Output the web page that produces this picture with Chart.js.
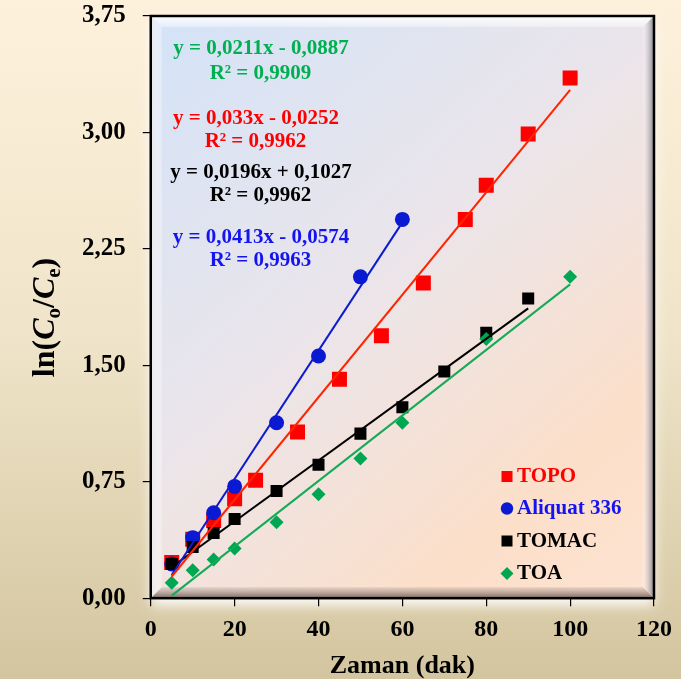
<!DOCTYPE html>
<html><head><meta charset="utf-8">
<script src="https://cdn.jsdelivr.net/npm/chart.js@4/dist/chart.umd.min.js"></script>
<style>html,body{margin:0;padding:0;background:#efe4c8;overflow:hidden}</style>
</head><body>
<canvas id="c" width="681" height="679" style="display:block;width:681px;height:679px"></canvas>
<script>
// ---- data ----
const seriesNames = ['TOPO', 'Aliquat 336', 'TOMAC', 'TOA'];

const xTopo = [5, 10, 15, 20, 25, 35, 45, 55, 65, 75, 80, 90, 100];
const yTopo = [0.23, 0.38, 0.50, 0.64, 0.76, 1.07, 1.41, 1.69, 2.03, 2.44, 2.66, 2.99, 3.35];

const xAliquat = [5, 10, 15, 20, 30, 40, 50, 60];
const yAliquat = [0.22, 0.39, 0.55, 0.72, 1.13, 1.56, 2.07, 2.44];

const xTomac = [5, 10, 15, 20, 30, 40, 50, 60, 70, 80, 90];
const yTomac = [0.22, 0.33, 0.42, 0.51, 0.69, 0.86, 1.06, 1.23, 1.46, 1.71, 1.93];

const xToa = [5, 10, 15, 20, 30, 40, 50, 60, 80, 100];
const yToa = [0.10, 0.18, 0.25, 0.32, 0.49, 0.67, 0.90, 1.13, 1.67, 2.07];

// trend-line end points (from the printed equations)
const fitXTopo = [5, 100];    const fitYTopo = [0.1398, 3.2748];
const fitXAliquat = [5, 60];  const fitYAliquat = [0.1491, 2.4206];
const fitXTomac = [5, 90];    const fitYTomac = [0.2007, 1.8667];
const fitXToa = [5, 100];     const fitYToa = [0.0168, 2.0213];

const eqText = ['y = 0,0211x - 0,0887', 'y = 0,033x - 0,0252', 'y = 0,0196x + 0,1027', 'y = 0,0413x - 0,0574'];
const r2Text = ['R² = 0,9909', 'R² = 0,9962', 'R² = 0,9962', 'R² = 0,9963'];

const xTickLabels = ['0', '20', '40', '60', '80', '100', '120'];
const yTickLabels = ['0,00', '0,75', '1,50', '2,25', '3,00', '3,75'];
const xTitle = 'Zaman (dak)';

// ---- styles ----
const SERIF = '"Liberation Serif", "Times New Roman", serif';
const cRed = '#ff0000', cRedLine = '#ff2400';
const cBlue = '#0a1ad2', cBlueLine = '#0c1ad0', cBlueText = '#1414f0';
const cBlack = '#000000';
const cGreen = '#00a651', cGreenLine = '#14aa58', cGreenText = '#00b050';

const pts = (xs, ys) => xs.map((x, i) => ({x: x, y: ys[i]}));

function pointSet(label, xs, ys, color, style, radius, order) {
  return {label, data: pts(xs, ys), showLine: false, pointStyle: style, pointRadius: radius,
    pointHoverRadius: radius, backgroundColor: color, borderColor: color, borderWidth: 0, order};
}
function fitSet(label, xs, ys, color, order) {
  return {label, data: pts(xs, ys), showLine: true, pointRadius: 0, pointHoverRadius: 0,
    borderColor: color, borderWidth: 2, fill: false, order};
}

const bgPlugin = {
  id: 'bgPlugin',
  beforeDraw(chart) {
    const ctx = chart.ctx, W = chart.width, H = chart.height;
    const a = chart.chartArea;
    ctx.save();
    let g = ctx.createLinearGradient(0, 0, 0, H);
    g.addColorStop(0, '#fef1dc');
    g.addColorStop(0.5, '#efe4c9');
    g.addColorStop(1, '#d3c59f');
    ctx.fillStyle = g;
    ctx.fillRect(0, 0, W, H);
    // plot area with soft white glow underneath
    let pg = ctx.createLinearGradient(a.left, a.top, a.right, a.bottom);
    pg.addColorStop(0, '#d3e3f8');
    pg.addColorStop(0.45, '#ebe5ea');
    pg.addColorStop(0.8, '#fcdfc9');
    pg.addColorStop(1, '#fde3d2');
    ctx.shadowColor = 'rgba(255,255,255,0.95)';
    ctx.shadowBlur = 12;
    ctx.shadowOffsetY = 7;
    ctx.fillStyle = pg;
    ctx.fillRect(a.left, a.top, a.right - a.left, a.bottom - a.top);
    ctx.shadowColor = 'transparent';
    // bevel
    const L = a.left, T = a.top, R = a.right, B = a.bottom, b = 11;
    const poly = (p, fill) => { ctx.beginPath(); ctx.moveTo(p[0][0], p[0][1]); for (let i = 1; i < p.length; i++) ctx.lineTo(p[i][0], p[i][1]); ctx.closePath(); ctx.fillStyle = fill; ctx.fill(); };
    g = ctx.createLinearGradient(0, T, 0, T + b);
    g.addColorStop(0, 'rgba(255,255,255,0.95)'); g.addColorStop(1, 'rgba(255,255,255,0.35)');
    poly([[L, T], [R, T], [R - b, T + b], [L + b, T + b]], g);
    g = ctx.createLinearGradient(L, 0, L + b, 0);
    g.addColorStop(0, 'rgba(235,232,236,0.9)'); g.addColorStop(1, 'rgba(255,255,255,0.3)');
    poly([[L, T], [L + b, T + b], [L + b, B - b], [L, B]], g);
    g = ctx.createLinearGradient(R - b, 0, R, 0);
    g.addColorStop(0, 'rgba(255,250,255,0.3)'); g.addColorStop(1, 'rgba(110,105,115,0.8)');
    poly([[R, T], [R, B], [R - b, B - b], [R - b, T + b]], g);
    g = ctx.createLinearGradient(0, B - b, 0, B);
    g.addColorStop(0, 'rgba(190,170,160,0.35)'); g.addColorStop(1, 'rgba(105,88,80,0.9)');
    poly([[L, B], [R, B], [R - b, B - b], [L + b, B - b]], g);
    // frame
    ctx.strokeStyle = '#000';
    ctx.lineWidth = 2.5;
    ctx.strokeRect(L, T, R - L, B - T);
    ctx.restore();
  },
  afterDraw(chart) {
    const ctx = chart.ctx;
    ctx.save();
    // equations
    const eqColors = [cGreenText, cRed, cBlack, cBlueText];
    const eqPos = [[261, 49, 260.5, 73.3], [256, 118.8, 255.5, 141.8], [261, 172.5, 260.5, 195.8], [261, 238, 260.5, 260.8]];
    ctx.font = 'bold 21px ' + SERIF;
    ctx.textAlign = 'center';
    ctx.textBaseline = 'middle';
    eqText.forEach((t, i) => {
      ctx.fillStyle = eqColors[i];
      ctx.fillText(t, eqPos[i][0], eqPos[i][1]);
      ctx.fillText(r2Text[i], eqPos[i][2], eqPos[i][3]);
    });
    // legend
    const lgColors = [cRed, cBlueText, cBlack, cBlack];
    const mkColors = [cRed, cBlue, cBlack, cGreen];
    const lgY = [476.5, 508.5, 541, 573.5];
    const mx = 507, tx = 517;
    ctx.textAlign = 'left';
    seriesNames.forEach((n, i) => {
      const y = lgY[i];
      ctx.fillStyle = mkColors[i];
      ctx.beginPath();
      if (i === 0 || i === 2) ctx.rect(mx - 5.5, y - 5.5, 11, 11);
      else if (i === 1) ctx.arc(mx, y, 6.2, 0, Math.PI * 2);
      else { ctx.moveTo(mx - 6.5, y); ctx.lineTo(mx, y - 6.5); ctx.lineTo(mx + 6.5, y); ctx.lineTo(mx, y + 6.5); ctx.closePath(); }
      ctx.fill();
      ctx.fillStyle = lgColors[i];
      ctx.fillText(n, tx, y + 0.5);
    });
    // y axis title  ln(Co/Ce)
    const parts = [
      {t: 'ln(', f: 'bold 32px ' + SERIF, dy: 0},
      {t: 'C', f: 'italic bold 32px ' + SERIF, dy: 0},
      {t: 'o', f: 'bold 21px ' + SERIF, dy: 6},
      {t: '/', f: 'bold 32px ' + SERIF, dy: 0},
      {t: 'C', f: 'italic bold 32px ' + SERIF, dy: 0},
      {t: 'e', f: 'bold 21px ' + SERIF, dy: 6},
      {t: ')', f: 'bold 32px ' + SERIF, dy: 0}
    ];
    let w = 0;
    parts.forEach(p => { ctx.font = p.f; p.w = ctx.measureText(p.t).width; w += p.w; });
    ctx.translate(54, 317.5);
    ctx.rotate(-Math.PI / 2);
    ctx.textBaseline = 'alphabetic';
    ctx.textAlign = 'left';
    ctx.fillStyle = '#000';
    let x = -w / 2;
    parts.forEach(p => { ctx.font = p.f; ctx.fillText(p.t, x, p.dy); x += p.w; });
    ctx.restore();
  }
};

new Chart(document.getElementById('c'), {
  type: 'scatter',
  data: {
    datasets: [
      fitSet('TOPO fit', fitXTopo, fitYTopo, cRedLine, 1),
      fitSet('Aliquat 336 fit', fitXAliquat, fitYAliquat, cBlueLine, 2),
      fitSet('TOMAC fit', fitXTomac, fitYTomac, cBlack, 3),
      fitSet('TOA fit', fitXToa, fitYToa, cGreenLine, 4),
      pointSet(seriesNames[3], xToa, yToa, cGreen, 'rectRot', 7, 5),
      pointSet(seriesNames[2], xTomac, yTomac, cBlack, 'rect', 8.5, 6),
      pointSet(seriesNames[1], xAliquat, yAliquat, cBlue, 'circle', 7.5, 7),
      pointSet(seriesNames[0], xTopo, yTopo, cRed, 'rect', 10.6, 8)
    ]
  },
  options: {
    responsive: false,
    animation: false,
    devicePixelRatio: 1,
    layout: {padding: {left: 65, right: 25, top: 16, bottom: 0}},
    plugins: {legend: {display: false}, tooltip: {enabled: false}},
    scales: {
      x: {
        type: 'linear', min: 0, max: 120,
        border: {display: false},
        grid: {drawOnChartArea: false, drawTicks: true, tickLength: 8, color: '#000', lineWidth: 1.2},
        ticks: {stepSize: 20, padding: 9, color: '#000', font: {family: SERIF, size: 24, weight: 'bold'},
          callback: (v, i) => xTickLabels[i]},
        title: {display: true, text: xTitle, color: '#000', font: {family: SERIF, size: 26, weight: 'bold', lineHeight: 1}, padding: {top: 0, bottom: 0}}
      },
      y: {
        type: 'linear', min: 0, max: 3.75,
        border: {display: false},
        grid: {drawOnChartArea: false, drawTicks: true, tickLength: 8, color: '#000', lineWidth: 1.2},
        ticks: {stepSize: 0.75, padding: 17, color: '#000', font: {family: SERIF, size: 25, weight: 'bold', lineHeight: 0.5},
          callback: (v, i) => yTickLabels[i]},
        afterFit: (scale) => { scale.paddingTop = 0; }
      }
    }
  },
  plugins: [bgPlugin]
});
</script>
</body></html>
